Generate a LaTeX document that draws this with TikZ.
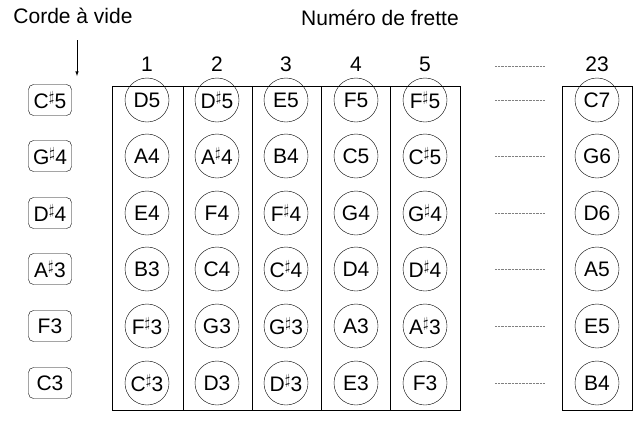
\documentclass[tikz,border=0pt]{standalone}
\usepackage{fontspec}
\setmainfont{Liberation Sans}
\usetikzlibrary{calc}
\tikzset{note/.style={draw,circle,minimum size=44pt,inner sep=0pt,font=\fontsize{21}{24}\selectfont},
 open/.style={draw,rounded corners=5pt,minimum width=43pt,minimum height=31pt,inner sep=1pt,font=\fontsize{21}{24}\selectfont},
 lbl/.style={font=\fontsize{21}{24}\selectfont}}
\newcommand{\sh}{$^{\sharp}$}
\begin{document}
\begin{tikzpicture}[x=1pt,y=-1pt,thin]
\useasboundingbox (0,0) rectangle (634,432);
\node[lbl] (corde) at (73,16) {Corde à vide};
\node[lbl] (frette) at (380,18) {Numéro de frette};
\coordinate (tip) at (77,76);
\draw[-latex,semithick] (77,40)--(tip);
% grid
\draw (112,86) rectangle (460,410);
\foreach \x in {183,252,321,390} \draw (\x,86)--(\x,410);
\draw (562,86) rectangle (632,410);
\foreach \n/\x in {1/147,2/217,3/286,4/356,5/425,23/597}
  \node[lbl] (n\n) at (\x,64) {\n};
\foreach \y in {66,100,156,213,269,326,383}
  \draw[densely dotted,gray] (495,\y)--(545,\y);
% rows
\foreach \r/\y/\o/\a/\b/\c/\d/\e/\z in {
  1/100/C\sh5/D5/D\sh5/E5/F5/F\sh5/C7,
  2/156/G\sh4/A4/A\sh4/B4/C5/C\sh5/G6,
  3/213/D\sh4/E4/F4/F\sh4/G4/G\sh4/D6,
  4/269/A\sh3/B3/C4/C\sh4/D4/D\sh4/A5,
  5/326/F3/F\sh3/G3/G\sh3/A3/A\sh3/E5,
  6/383/C3/C\sh3/D3/D\sh3/E3/F3/B4}{
  \node[open] (o\r) at (50,\y) {\o};
  \node[note] (a\r) at (147,\y) {\a};
  \node[note] (b\r) at (217,\y) {\b};
  \node[note] (c\r) at (286,\y) {\c};
  \node[note] (d\r) at (356,\y) {\d};
  \node[note] (e\r) at (425,\y) {\e};
  \node[note] (z\r) at (597,\y) {\z};
}
\end{tikzpicture}
\end{document}
